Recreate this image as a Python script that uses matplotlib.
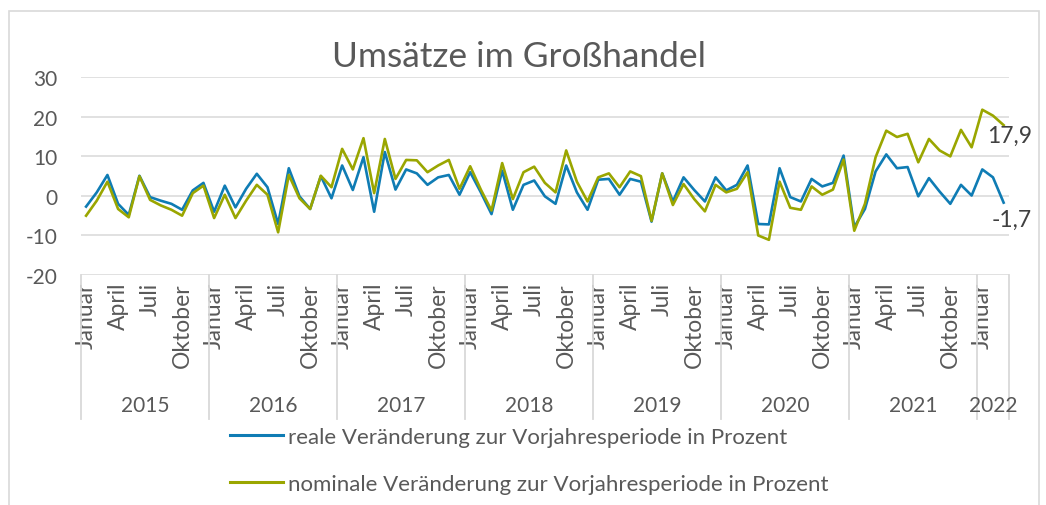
import numpy as np
import matplotlib.pyplot as plt
import matplotlib.transforms as mtransforms
from matplotlib.lines import Line2D

plt.rcParams['font.family'] = ['Lato', 'DejaVu Sans']

# monthly values Jan 2015 .. Mar 2022, change vs. previous year in percent
real = [
    -2.7, 0.9, 5.3, -2.0, -4.8, 5.1, -0.3, -1.2, -2.0, -3.5, 1.4, 3.3,
    -4.0, 2.6, -2.9, 1.8, 5.6, 2.2, -7.1, 7.0, -0.1, -3.3, 5.0, -0.6,
    7.7, 1.5, 9.8, -4.0, 11.1, 1.6, 6.7, 5.7, 2.8, 4.7, 5.3, 0.3,
    6.0, 0.9, -4.6, 6.4, -3.5, 2.8, 3.9, -0.1, -2.0, 7.7, 0.9, -3.5,
    4.1, 4.3, 0.3, 4.3, 3.6, -6.5, 5.7, -1.4, 4.7, 1.5, -1.4, 4.7,
    1.4, 2.8, 7.7, -7.1, -7.2, 7.0, -0.3, -1.4, 4.3, 2.4, 3.3, 10.2,
    -7.9, -3.3, 6.2, 10.5, 7.0, 7.3, -0.1, 4.5, 1.1, -2.0, 2.8, 0.1,
    6.7, 4.7, -1.7]
nominal = [
    -5.0, -1.2, 3.6, -3.3, -5.4, 5.0, -1.0, -2.4, -3.5, -5.0, 0.7, 2.6,
    -5.6, 0.3, -5.6, -1.2, 2.8, 0.3, -9.2, 5.3, -0.6, -3.3, 5.1, 2.2,
    11.9, 6.7, 14.6, 0.7, 14.4, 4.3, 9.1, 9.0, 6.0, 7.7, 9.1, 1.8,
    7.5, 1.6, -3.7, 8.3, -0.8, 6.0, 7.4, 3.3, 0.9, 11.5, 3.6, -1.4,
    4.7, 5.7, 2.2, 6.2, 5.0, -6.3, 5.7, -2.3, 3.0, -0.8, -3.9, 2.8,
    0.9, 1.8, 6.0, -10.0, -11.1, 3.6, -3.0, -3.5, 2.4, 0.3, 1.6, 9.2,
    -8.8, -2.0, 9.8, 16.5, 14.9, 15.7, 8.5, 14.4, 11.5, 10.0, 16.7, 12.3,
    21.8, 20.3, 17.9]

years = [2015, 2016, 2017, 2018, 2019, 2020, 2021, 2022]
month_names = ['Januar', '', '', 'April', '', '', 'Juli', '', '',
               'Oktober', '', '']
yticks = [-20, -10, 0, 10, 20, 30]

label_real = 'reale Veränderung zur Vorjahresperiode in Prozent'
label_nominal = 'nominale Veränderung zur Vorjahresperiode in Prozent'

c_real = '#0f7cb4'
c_nominal = '#9aa600'
c_text = '#595959'
c_grid = '#d9d9d9'

n = len(real)
x = np.arange(n)
month_labels = [month_names[i % 12] for i in range(n)]

fig = plt.figure(figsize=(10.46, 5.06), dpi=100)
ax = fig.add_axes([0.0772, 0.4545, 0.8874, 0.3908])

# outer chart frame
fig.patches.append(plt.Rectangle((0.0086, -0.05), 0.985, 1.0263,
                                 transform=fig.transFigure, fill=False,
                                 edgecolor=c_grid, linewidth=1.2))

ax.plot(x, real, color=c_real, lw=1.9, label=label_real)
ax.plot(x, nominal, color=c_nominal, lw=1.9, label=label_nominal)

ax.set_xlim(-0.5, n - 0.5)
ax.set_ylim(-20, 30)
ax.set_yticks(yticks)
ax.set_yticklabels([str(v) for v in yticks])
ax.yaxis.grid(True, color=c_grid, lw=1.1)
ax.set_axisbelow(True)
for s in ax.spines.values():
    s.set_visible(False)
ax.tick_params(axis='y', length=0, pad=17, labelsize=15,
               labelcolor=c_text)

ax.set_xticks(x)
ax.set_xticklabels(month_labels, rotation=90, va='top', ha='center')
ax.tick_params(axis='x', length=0, pad=5, labelsize=16.5,
               labelcolor=c_text)

# multi-level category axis: year separators and year labels
trans = mtransforms.blended_transform_factory(ax.transData, ax.transAxes)
bounds = list(range(0, n, 12)) + [n]
for b in bounds:
    ax.plot([b - 0.5, b - 0.5], [0, -0.728], color=c_grid, lw=1.3,
            transform=trans, clip_on=False)
for k, yr in enumerate(years):
    start = bounds[k]
    end = bounds[k + 1] - 1
    ax.text((start + end) / 2, -0.655, str(yr), transform=trans,
            ha='center', va='center', fontsize=15, color=c_text)

# data labels for the last month
ax.annotate('17,9', (x[-1], nominal[-1]), xytext=(4, -7),
            textcoords='offset points', ha='center', va='center',
            fontsize=16.5, color='#404040')
ax.annotate('-1,7', (x[-1], real[-1]), xytext=(6, -12),
            textcoords='offset points', ha='center', va='center',
            fontsize=16.5, color='#404040')

fig.text(0.4962, 0.8676, 'Umsätze im Großhandel', ha='center',
         va='baseline', fontsize=25.5, color=c_text)

handles = [Line2D([], [], color=c_real, lw=2.2),
           Line2D([], [], color=c_nominal, lw=2.2)]
fig.legend(handles, [label_real, label_nominal], loc='upper left',
           bbox_to_anchor=(0.2199, 0.154), frameon=False, fontsize=16,
           handlelength=2.4, handletextpad=0.22, labelspacing=1.22,
           borderpad=0, borderaxespad=0, labelcolor=c_text)

fig.savefig('out.png', dpi=100)
